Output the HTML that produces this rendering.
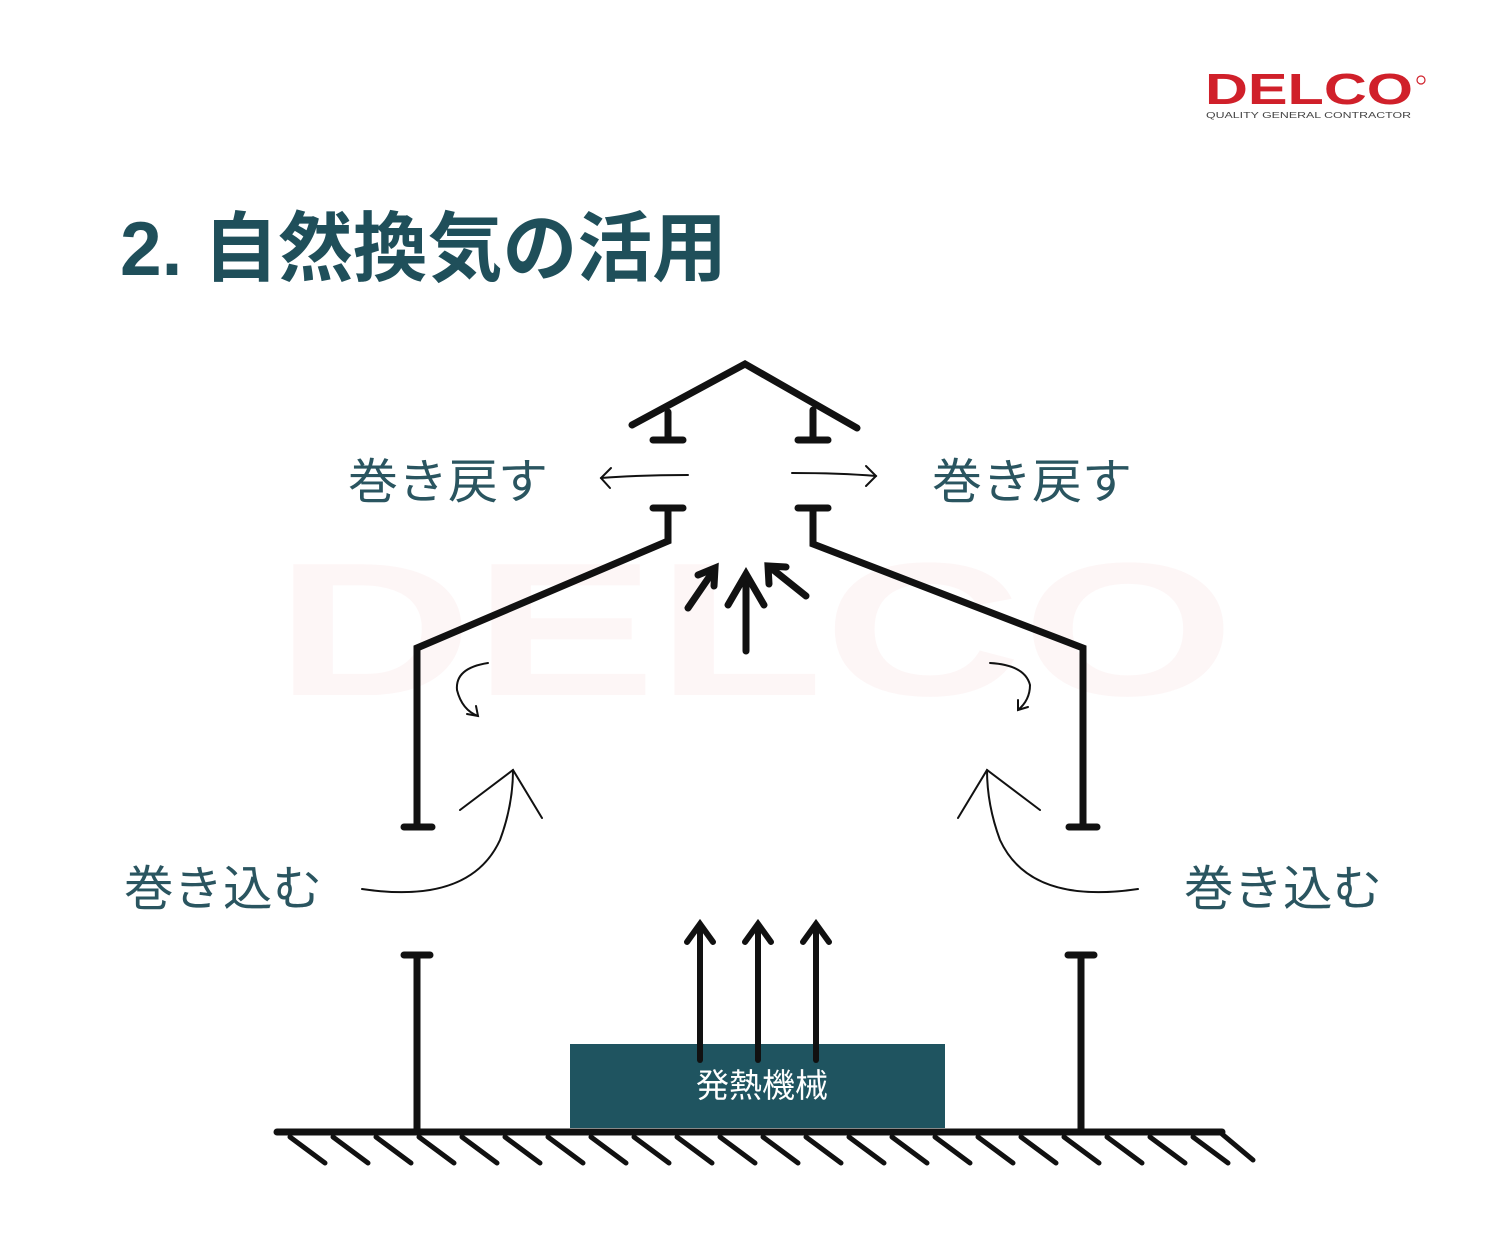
<!DOCTYPE html>
<html><head><meta charset="utf-8"><style>
body{margin:0;background:#fff;}
svg{display:block}
</style></head><body>
<svg width="1500" height="1257" viewBox="0 0 1500 1257" xmlns="http://www.w3.org/2000/svg">
<rect width="1500" height="1257" fill="#fff"/>
<text x="1205" y="104" font-family="Liberation Sans, sans-serif" font-weight="bold" font-size="44" fill="#d0202a" textLength="208" lengthAdjust="spacingAndGlyphs">DELCO</text>
<circle cx="1421" cy="80" r="4" fill="none" stroke="#d0202a" stroke-width="1.2"/>
<text x="1206" y="118" font-family="Liberation Sans, sans-serif" font-size="8" fill="#444" textLength="205" lengthAdjust="spacingAndGlyphs">QUALITY GENERAL CONTRACTOR</text>
<text x="275" y="695" font-family="Liberation Sans, sans-serif" font-weight="bold" font-size="190" fill="#d0202a" opacity="0.035" textLength="960" lengthAdjust="spacingAndGlyphs">DELCO</text>
<text x="120" y="275" font-family="Liberation Sans, 'Noto Sans CJK JP', sans-serif" font-weight="bold" font-size="76" fill="#1f4f5a" textLength="607" lengthAdjust="spacingAndGlyphs">2. 自然換気の活用</text>
<g stroke="#111" stroke-width="7" fill="none" stroke-linecap="round" stroke-linejoin="miter">
<polyline points="632,425 745,364 857,428"/>
<line x1="668" y1="412" x2="668" y2="440"/><line x1="653" y1="440" x2="683" y2="440"/>
<line x1="813" y1="410" x2="813" y2="440"/><line x1="798" y1="440" x2="828" y2="440"/>
<line x1="653" y1="508" x2="683" y2="508"/>
<polyline points="668,508 668,541 417,648 417,827"/>
<line x1="404" y1="827" x2="432" y2="827"/>
<line x1="798" y1="508" x2="828" y2="508"/>
<polyline points="813,508 813,544 1083,648 1083,827"/>
<line x1="1069" y1="827" x2="1097" y2="827"/>
<line x1="404" y1="955" x2="430" y2="955"/><line x1="417" y1="955" x2="417" y2="1130"/>
<line x1="1068" y1="955" x2="1094" y2="955"/><line x1="1081" y1="955" x2="1081" y2="1130"/>
<line x1="277" y1="1132" x2="1222" y2="1132"/>
<line x1="746" y1="651" x2="746" y2="576"/><polyline points="728,605 746,574 764,605"/>
<line x1="688" y1="608" x2="714" y2="570"/><polyline points="698,575 715,568 714,586"/>
<line x1="806" y1="596" x2="771" y2="568"/><polyline points="769,584 768,566 786,567"/>
</g>
<rect x="570" y="1044" width="375" height="84" fill="#1f5460"/>
<text x="762" y="1097" text-anchor="middle" font-family="Liberation Sans, 'Noto Sans CJK JP', sans-serif" font-size="33" fill="#fff">発熱機械</text>
<g stroke="#111" stroke-width="6" fill="none" stroke-linecap="round">
<line x1="700" y1="1060" x2="700" y2="926"/><polyline points="687,942 700,924 713,942"/>
<line x1="758" y1="1060" x2="758" y2="926"/><polyline points="745,942 758,924 771,942"/>
<line x1="816" y1="1060" x2="816" y2="926"/><polyline points="803,942 816,924 829,942"/>
</g>
<g stroke="#111" stroke-width="2" fill="none" stroke-linecap="round">
<path d="M688,475 Q640,475 601,478"/><polyline points="611,468 601,478 610,488"/>
<path d="M792,473 Q840,473 876,476"/><polyline points="866,466 876,476 866,486"/>
<path d="M488,663 Q455,668 457,690 Q462,710 478,716"/><polyline points="467,714 478,716 476,706"/>
<path d="M990,663 Q1025,665 1030,685 Q1030,700 1018,710"/><polyline points="1018,700 1018,710 1028,707"/>
<path d="M362,889 Q470,905 500,840 Q513,805 513,770"/><polyline points="460,810 513,770 542,818"/>
<path d="M1138,889 Q1030,905 1000,840 Q987,805 987,770"/><polyline points="1040,810 987,770 958,818"/>
</g>
<g stroke="#111" stroke-width="5" stroke-linecap="round">
<line x1="290" y1="1137" x2="325" y2="1163"/><line x1="333" y1="1137" x2="368" y2="1163"/><line x1="376" y1="1137" x2="411" y2="1163"/><line x1="419" y1="1137" x2="454" y2="1163"/><line x1="462" y1="1137" x2="497" y2="1163"/><line x1="505" y1="1137" x2="540" y2="1163"/><line x1="548" y1="1137" x2="583" y2="1163"/><line x1="591" y1="1137" x2="626" y2="1163"/><line x1="634" y1="1137" x2="669" y2="1163"/><line x1="677" y1="1137" x2="712" y2="1163"/><line x1="720" y1="1137" x2="755" y2="1163"/><line x1="763" y1="1137" x2="798" y2="1163"/><line x1="806" y1="1137" x2="841" y2="1163"/><line x1="849" y1="1137" x2="884" y2="1163"/><line x1="892" y1="1137" x2="927" y2="1163"/><line x1="935" y1="1137" x2="970" y2="1163"/><line x1="978" y1="1137" x2="1013" y2="1163"/><line x1="1021" y1="1137" x2="1056" y2="1163"/><line x1="1064" y1="1137" x2="1099" y2="1163"/><line x1="1107" y1="1137" x2="1142" y2="1163"/><line x1="1150" y1="1137" x2="1185" y2="1163"/><line x1="1193" y1="1137" x2="1228" y2="1163"/><line x1="1222" y1="1134" x2="1253" y2="1160"/>
</g>
<g font-family="Liberation Sans, 'Noto Sans CJK JP', sans-serif" font-size="48" fill="#2a5560">
<text x="348" y="498" textLength="200" lengthAdjust="spacingAndGlyphs">巻き戻す</text>
<text x="932" y="498" textLength="200" lengthAdjust="spacingAndGlyphs">巻き戻す</text>
<text x="124" y="905" textLength="198" lengthAdjust="spacingAndGlyphs">巻き込む</text>
<text x="1184" y="905" textLength="198" lengthAdjust="spacingAndGlyphs">巻き込む</text>
</g>
</svg>
</body></html>
